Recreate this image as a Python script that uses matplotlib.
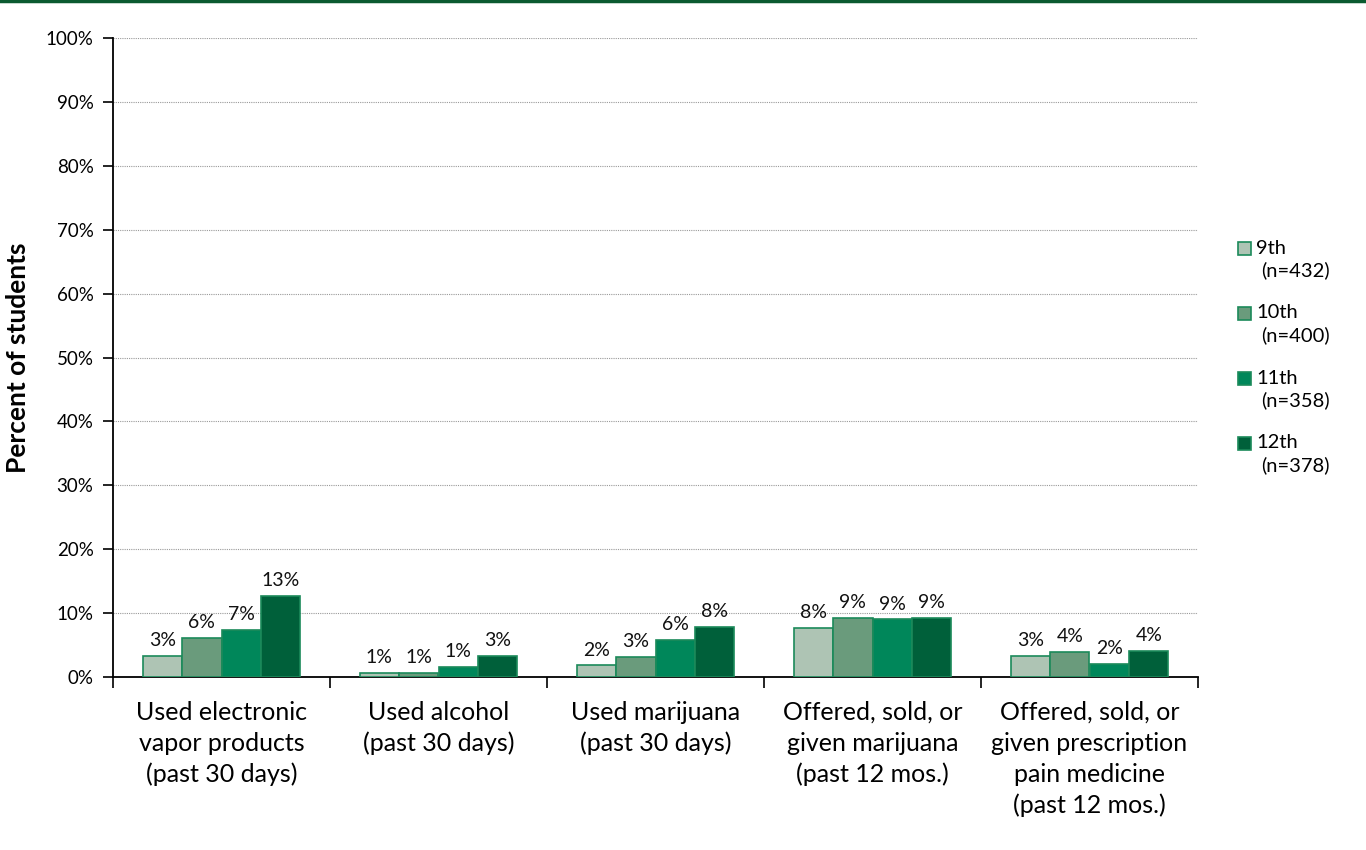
import matplotlib
matplotlib.use("Agg")
import matplotlib.pyplot as plt
import numpy as np
from matplotlib.patches import Rectangle

plt.rcParams['font.family'] = ['Lato', 'DejaVu Sans']

categories = ["Used electronic\nvapor products\n(past 30 days)",
              "Used alcohol\n(past 30 days)",
              "Used marijuana\n(past 30 days)",
              "Offered, sold, or\ngiven marijuana\n(past 12 mos.)",
              "Offered, sold, or\ngiven prescription\npain medicine\n(past 12 mos.)"]
grades = ["9th", "10th", "11th", "12th"]
sample_sizes = ["(n=432)", "(n=400)", "(n=358)", "(n=378)"]
v9 = [3.3, 0.7, 1.8, 7.7, 3.3]
v10 = [6.1, 0.6, 3.1, 9.2, 3.9]
v11 = [7.4, 1.5, 5.8, 9.0, 2.1]
v12 = [12.7, 3.3, 7.8, 9.2, 4.0]
lab9 = ["3%", "1%", "2%", "8%", "3%"]
lab10 = ["6%", "1%", "3%", "9%", "4%"]
lab11 = ["7%", "1%", "6%", "9%", "2%"]
lab12 = ["13%", "3%", "8%", "9%", "4%"]
yticks = [0, 10, 20, 30, 40, 50, 60, 70, 80, 90, 100]
ytick_labels = [f"{t}%" for t in yticks]

colors = ["#AEC4B4", "#6A9B7C", "#00875A", "#00603A"]
edge = "#1B8A5A"

W, H = 1366, 850
fig = plt.figure(figsize=(W / 100, H / 100), dpi=100)
ax = fig.add_axes([113 / W, 1 - 677 / H, (1198 - 113) / W, (677 - 38) / H])

values = [v9, v10, v11, v12]
labels = [lab9, lab10, lab11, lab12]
x = np.arange(len(categories))
bw = 0.182
for i, (vals, labs) in enumerate(zip(values, labels)):
    pos = x + (i - 1.5) * bw
    ax.bar(pos, vals, width=bw, color=colors[i], edgecolor=edge, linewidth=1.2, zorder=3)
    for p, v, l in zip(pos, vals, labs):
        ax.annotate(l, (p, v), xytext=(0, 5), textcoords='offset points',
                    ha='center', va='bottom', fontsize=14, color='#111111')

ax.set_xlim(-0.5, len(categories) - 0.5)
ax.set_ylim(0, 100)
ax.set_yticks(yticks)
ax.set_yticklabels(ytick_labels, fontsize=13.5)
ax.yaxis.grid(True, linestyle=(0, (1, 1)), color='#999999', linewidth=0.8, zorder=0)
ax.set_axisbelow(True)

ax.set_xticks(x)
ax.set_xticklabels(categories, fontsize=18, linespacing=1.42, va='top')
ax.tick_params(axis='x', length=0, pad=17)
ax.set_xticks(np.arange(len(categories) + 1) - 0.5, minor=True)
ax.tick_params(axis='x', which='minor', length=8, width=1.2, direction='out', color='black')
ax.tick_params(axis='y', length=7, width=1.2, direction='out', color='black', pad=7)

for s in ['top', 'right']:
    ax.spines[s].set_visible(False)
ax.spines['left'].set_linewidth(1.3)
ax.spines['bottom'].set_linewidth(1.3)

ax.set_ylabel("Percent of students", fontsize=19, fontweight='bold', labelpad=11)

# legend drawn manually in figure pixel coordinates
for i in range(4):
    yc = 248 + 65 * i
    fig.add_artist(Rectangle((1238 / W, 1 - (yc + 6.5) / H), 13 / W, 13 / H,
                             transform=fig.transFigure, facecolor=colors[i],
                             edgecolor=edge, linewidth=1.2))
    fig.text(1256 / W, 1 - yc / H, grades[i], ha='left', va='center', fontsize=14.5)
    fig.text(1261 / W, 1 - (yc + 22) / H, sample_sizes[i], ha='left', va='center', fontsize=14.5)

fig.add_artist(plt.Line2D([0, 1], [0.9985, 0.9985], color='#0B5A30', linewidth=2.5,
                          transform=fig.transFigure))

fig.savefig("out.png", dpi=100)
